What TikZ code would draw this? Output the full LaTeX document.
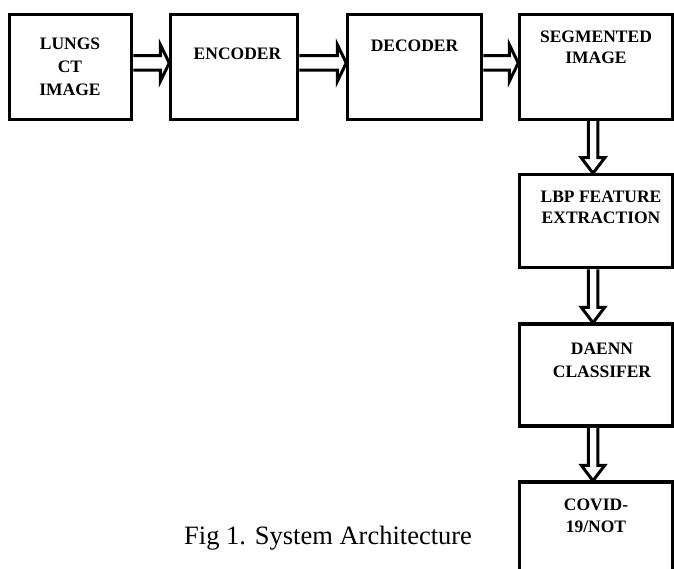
\documentclass[tikz,border=0pt]{standalone}
\usepackage{fontspec}
\setmainfont{Liberation Serif}
\usetikzlibrary{calc}
\newcommand\boxlines[2]{\fontsize{17.5}{#1}\selectfont\bfseries\begin{tabular}[t]{@{}c@{}}#2\end{tabular}}
\newcommand\harrow[3]{%
  \draw[blockarrow] (#1.east |- 0,#3-7.25) -- ($(#2.west |- 0,#3-7.25)+(-8.5,0)$) -- ($(#2.west |- 0,#3-18.5)+(-8.5,0)$) -- ($(#2.west |- 0,#3)+(0.5,0)$) -- ($(#2.west |- 0,#3+18.5)+(-8.5,0)$) -- ($(#2.west |- 0,#3+7.25)+(-8.5,0)$) -- (#1.east |- 0,#3+7.25);}
\newcommand\varrow[3]{%
  \draw[blockarrow] (#1.south -| #3-4.75,0) -- ($(#2.north -| #3-4.75,0)+(0,-15)$) -- ($(#2.north -| #3-11.75,0)+(0,-15)$) -- ($(#2.north -| #3,0)+(0,0.5)$) -- ($(#2.north -| #3+11.75,0)+(0,-15)$) -- ($(#2.north -| #3+4.75,0)+(0,-15)$) -- (#1.south -| #3+4.75,0);}
\begin{document}
\begin{tikzpicture}[x=1pt,y=-1pt,
  box/.style={draw, line width=3.5pt, outer sep=1.75pt, inner sep=0pt, rectangle},
  blockarrow/.style={draw, fill=white, line width=3pt, line join=miter},
  lbl/.style={inner sep=0pt, anchor=base}]
\useasboundingbox (0,0) rectangle (674,569);
\clip (0,0) rectangle (674,569);
% boxes
\node[box, minimum width=122pt, minimum height=105pt] (b1) at (70.5,67) {};
\node[box, minimum width=127pt, minimum height=105pt] (b2) at (234,67) {};
\node[box, minimum width=134pt, minimum height=105pt] (b3) at (414.5,67) {};
\node[box, minimum width=153pt, minimum height=105pt] (b4) at (596,67) {};
\node[box, minimum width=153pt, minimum height=93pt] (b5) at (596,221) {};
\node[box, minimum width=153pt, minimum height=102pt] (b6) at (596,375) {};
\node[box, minimum width=153pt, minimum height=118pt] (b7) at (596,541) {};
% labels
\node[lbl] (t1) at (70,50) {\boxlines{23}{LUNGS\\CT\\IMAGE}};
\node[lbl] (t2) at (237.5,59.3) {\boxlines{21.5}{ENCODER}};
\node[lbl] (t3) at (414.5,51.7) {\boxlines{21.5}{DECODER}};
\node[lbl] (t4) at (596,43) {\boxlines{21}{SEGMENTED\\IMAGE}};
\node[lbl] (t5) at (601,203) {\boxlines{20.5}{LBP FEATURE\\EXTRACTION}};
\node[lbl] (t6) at (602,354.7) {\boxlines{23}{DAENN\\CLASSIFER}};
\node[lbl] (t7) at (596,510.7) {\boxlines{21.6}{COVID-\\19/NOT}};
\node[lbl, anchor=base west] (cap) at (184,544) {\fontsize{26.5}{30}\selectfont Fig 1. System Architecture};
% connectors
\harrow{b1}{b2}{63}
\harrow{b2}{b3}{63}
\harrow{b3}{b4}{63}
\varrow{b4}{b5}{593}
\varrow{b5}{b6}{593}
\varrow{b6}{b7}{593}
\end{tikzpicture}
\end{document}
